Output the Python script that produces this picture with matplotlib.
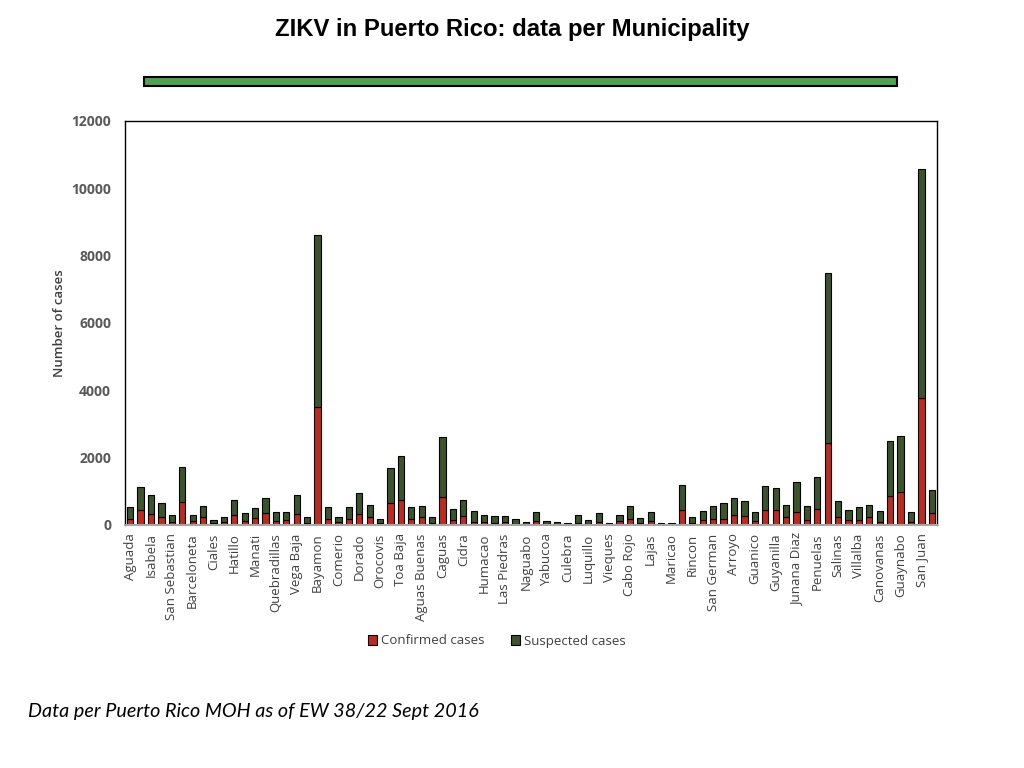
import numpy as np
import matplotlib
matplotlib.use("Agg")
import matplotlib.pyplot as plt
from matplotlib.patches import Rectangle

# municipalities, grouped by region (only every other one is labelled on the axis)
municipios = [
    "Aguada", "Aguadilla", "Isabela", "Moca", "San Sebastian", "Arecibo",
    "Barceloneta", "Camuy", "Ciales", "Florida", "Hatillo", "Lares",
    "Manati", "Morovis", "Quebradillas", "Utuado", "Vega Baja", "Vega Alta",
    "Bayamon", "Catano", "Comerio", "Corozal", "Dorado", "Naranjito",
    "Orocovis", "Toa Alta", "Toa Baja", "Aibonito", "Aguas Buenas", "Barranquitas",
    "Caguas", "Cayey", "Cidra", "Gurabo", "Humacao", "Juncos",
    "Las Piedras", "Maunabo", "Naguabo", "San Lorenzo", "Yabucoa", "Ceiba",
    "Culebra", "Fajardo", "Luquillo", "Rio Grande", "Vieques", "Anasco",
    "Cabo Rojo", "Hormigueros", "Lajas", "Las Marias", "Maricao", "Mayaguez",
    "Rincon", "Sabana Grande", "San German", "Adjuntas", "Arroyo", "Coamo",
    "Guanico", "Guayama", "Guyanilla", "Jayuya", "Junana Diaz", "Patillas",
    "Penuelas", "Ponce", "Salinas", "Santa Isabel", "Villalba", "Yauco",
    "Canovanas", "Carolina", "Guaynabo", "Loiza", "San Juan", "Trujillo Alto",
]

confirmed = [
    190, 455, 335, 230, 80, 685, 120, 230, 50, 100, 305, 110,
    200, 345, 120, 150, 335, 70, 3500, 190, 80, 190, 325, 230,
    50, 645, 750, 190, 230, 70, 820, 150, 255, 100, 80, 50,
    80, 30, 30, 120, 30, 30, 20, 60, 40, 80, 20, 120,
    190, 50, 110, 20, 20, 445, 60, 150, 190, 190, 305, 255,
    110, 445, 445, 230, 375, 150, 485, 2430, 230, 150, 160, 230,
    100, 850, 980, 100, 3780, 365,
]

total = [
    535, 1120, 900, 645, 305, 1715, 305, 565, 160, 240, 750, 345,
    495, 790, 385, 385, 900, 240, 8600, 525, 240, 525, 940, 605,
    170, 1685, 2060, 525, 565, 230, 2615, 485, 750, 425, 305, 265,
    265, 190, 80, 385, 130, 90, 50, 305, 160, 345, 50, 305,
    565, 200, 385, 50, 50, 1200, 230, 425, 565, 645, 790, 725,
    375, 1160, 1090, 605, 1275, 565, 1415, 7500, 725, 455, 525, 605,
    425, 2495, 2655, 375, 10580, 1050,
]

suspected = [t - c for t, c in zip(total, confirmed)]

red = "#BD2A1F"
green = "#3B5429"
grey = "#595959"

fig = plt.figure(figsize=(10.24, 7.68), dpi=100)
fig.patch.set_facecolor("white")

fig.text(0.5, 0.961, "ZIKV in Puerto Rico: data per Municipality",
         ha="center", va="center", fontsize=17.2, fontweight="bold",
         family="Liberation Sans")

# green banner under the title
fig.patches.append(Rectangle((144 / 1024, 1 - 86 / 768), 753 / 1024, 9 / 768,
                             transform=fig.transFigure, facecolor="#4FA24F",
                             edgecolor="black", linewidth=1.5))

ax = fig.add_axes([125 / 1024, 1 - 525 / 768, 812 / 1024, 404 / 768])
x = np.arange(len(municipios))
ax.bar(x, confirmed, width=0.6, color=red, edgecolor="black", linewidth=0.8,
       label="Confirmed cases")
ax.bar(x, suspected, width=0.6, bottom=confirmed, color=green,
       edgecolor="black", linewidth=0.8, label="Suspected cases")

ax.set_xlim(-0.5, len(municipios) - 0.5)
ax.set_ylim(0, 12000)
ax.set_yticks(range(0, 12001, 2000))
ax.set_xticks(x[::2])
ax.set_xticklabels(municipios[::2], rotation=90, fontsize=9.5, color="#404040",
                   family="Open Sans")
for lbl in ax.get_yticklabels():
    lbl.set_fontweight("bold")
    lbl.set_family("Open Sans")
    lbl.set_fontsize(10)
    lbl.set_color(grey)
ax.tick_params(axis="y", length=0, pad=10)
ax.tick_params(axis="x", length=0, pad=6)

for side in ("left", "top", "right"):
    ax.spines[side].set_color("black")
    ax.spines[side].set_linewidth(1.0)
ax.spines["bottom"].set_color("#A6A6A6")
ax.spines["bottom"].set_linewidth(1.5)

ax.set_ylabel("Number of cases", fontsize=9.5, color="#404040",
              fontweight="semibold", family="Open Sans")
ax.yaxis.set_label_coords(-0.073, 0.5)

leg = fig.legend(loc="center", bbox_to_anchor=(0.485, 1 - 641 / 768), ncol=2,
                 frameon=False, handlelength=0.7, handleheight=0.7,
                 handletextpad=0.3, columnspacing=2.0,
                 prop={"family": "Open Sans", "size": 9.5})
for t in leg.get_texts():
    t.set_color("#404040")

fig.text(28 / 1024, 1 - 712 / 768, "Data per Puerto Rico MOH as of EW 38/22 Sept 2016",
         ha="left", va="center", fontsize=14.2, style="italic", family="Lato")

fig.savefig("out.png", dpi=100)
